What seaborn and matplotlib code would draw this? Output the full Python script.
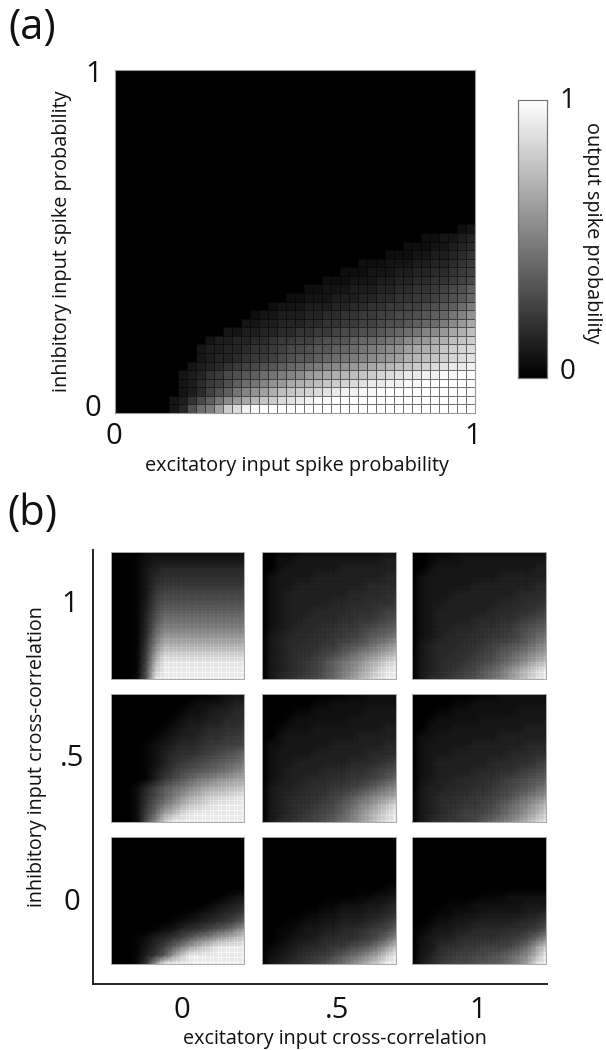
import numpy as np
import pandas as pd
import seaborn as sns
import matplotlib
matplotlib.use("Agg")
import matplotlib.pyplot as plt

# grey levels are written as one base-36 digit per cell (0 = black, z = white)
# rows run top to bottom, short rows are black on the left

# (a) 40 x 40 map
rows_a = [""] * 18 + [
    "23",
    "223345",
    "22233456",
    "2223344567",
    "2223334455678",
    "222333445566789",
    "2223334455667789a",
    "2233344455667789abd",
    "22333444556677889abce",
    "23334445566778899abcdfh",
    "2334445566778899aabcdegik",
    "334455566778899abbcdefhjln",
    "3344556677889aabbcdefgijlnoq",
    "344556678899abbcdeefghjklnoqrs",
    "3445567789aabccdefghijkmnoprstu",
    "345567889abccdefghijklmopqrstuv",
    "3456789abcdefghijklmnopqrstuvwwx",
    "34578abcdfghijlmnopqrstuvwwxxyyzz",
    "34689bdfgiklnopqrstuvwwxxyyzzzzzz",
    "3469bdgikmoqrstuvwxxyyzzzzzzzzzzz",
    "347adgjlnprsuvwxyyzzzzzzzzzzzzzzzz",
    "35bfhmsuxyzzzzzzzzzzzzzzzzzzzzzzzz",
]

# (b) 16 x 16 maps, one per input correlation pair (inhibitory, excitatory)
b_1_0 = [
    "0000222222222222", "0001233333333333", "0001345555555555", "0001356666666666",
    "0001367777777777", "0001379999999999", "000148aaaaaaaaaa", "000149cccccccccc",
    "00015aeeeeeeeeee", "00015cgggggggggg", "00016ejjjjjjjjjj", "00017gmmmmmmmmmm",
    "00018jqqqqqqqqqq", "00019mtttttttttt", "0001apwwwwwwwwww", "0002bszzzzzzzzzz",
]
b_1_5 = [
    "0011122222222222", "0022333333333344", "0023333334444444", "0233334444444455",
    "0233444444445555", "0234444444555566", "0234444455556667", "0234445555666788",
    "023445555667789a", "0234555667789abc", "034555667789bcdf", "0345566779abdfhj",
    "034566789bdfhjln", "0345678acegilnqs", "0345678acfhknqtw", "0356789bdgjmpsvy",
]
b_1_1 = [
    "0011122222222222", "0012223333333333", "0023333333333344", "0233333333444444",
    "0233333444444455", "0233344444445556", "0233444444555667", "0234444445556678",
    "023444455566789a", "0234455566779abc", "0234555667789bde", "03455566789abdfh",
    "0345566789bcegik", "034566789acegjmo", "03456789bdfiloru", "0356789acegjmpsv",
]
b_5_0 = [
    "0000000000001222", "0000000001222344", "0000000012234455", "0000000123344556",
    "0000001234455667", "0000012344566778", "0000123455677889", "0000124566789abd",
    "00001246789abcdf", "000013579abcdegi", "00001479bdfgijkl", "000258bdfhjlmnop",
    "000269cfilnpqrst", "00027bfimpqstuvw", "00028dknrtuvwxxy", "0002ahpuxyzzzzzz",
]
b_5_5 = [
    "0000000000112222", "0000001122222222", "0000112222223333", "0001222222333333",
    "0012223333333344", "0023333333344444", "0223333344444455", "0233334444445556",
    "0233444444555678", "023444455566789a", "02344555667789bd", "034455667789bdfh",
    "0345566789bdfhjl", "034566789bdgilor", "03456789acfilorv", "0356789acegjmpsw",
]
b_5_1 = [
    "0000000011222222", "0000011222222222", "0001122222223333", "0012222233333333",
    "0022233333333444", "0223333333444444", "0233333444444555", "0233344444455566",
    "0234444445556678", "023444455566789a", "0234455566789abc", "034455566789abdf",
    "03455667789acegi", "0345667789bdfhkn", "034567889acegjmq", "03567789bdfhknqt",
]
b_0_0 = [""] * 7 + [
    "0000000000000123", "0000000000012345", "0000000001234568", "000000012345679c",
    "000001235679bdgk", "000124579cfhkmoq", "0001358cgknqtvwx", "000147bjpuwxyyzz",
    "00027jvzzzzzzzzz",
]
b_0_5 = [""] * 6 + [
    "0000000000000012", "0000000000011223", "0000000112223345", "0000011223334456",
    "0001122334445679", "001123344556789c", "0012334556678adh", "01234556779acfjo",
    "023456779bdfilqv", "0345678acehknqvy",
]
b_0_1 = [""] * 7 + [
    "0000000011122222", "0000111222222333", "0001122233333445", "0012233444445568",
    "012334455556678b", "0234456666778adh", "023566778889bekp", "034678899abdfinu",
    "0357899abbcehlsx",
]

panels_b = [[b_1_0, b_1_5, b_1_1], [b_5_0, b_5_5, b_5_1], [b_0_0, b_0_5, b_0_1]]
col_edges = [(111, 244), (262, 396), (412, 546)]
row_edges = [(552, 679), (694, 822), (837, 964)]

W, H = 606, 1050


def decode(rows, n):
    grid = [[int(c, 36) / 35 for c in r.rjust(n, "0")] for r in rows]
    return pd.DataFrame(grid)


def add_ax(x0, x1, y0, y1):
    return fig.add_axes([x0 / W, 1 - y1 / H, (x1 - x0) / W, (y1 - y0) / H])


def label(x, y, s, size, **kw):
    fig.text(x / W, 1 - y / H, s, fontsize=size, ha="center", va="center", color="#111111", **kw)


sns.set_theme(style="white")
plt.rcParams["font.family"] = ["Open Sans", "DejaVu Sans"]

fig = plt.figure(figsize=(W / 100, H / 100), dpi=100)

# --- (a) ---
ax_a = add_ax(115, 475, 70, 413)
cax = add_ax(518, 547, 100, 378)
sns.heatmap(decode(rows_a, 40), vmin=0, vmax=1, cmap="gray", linewidths=0.5, linecolor=(0, 0, 0, 0.55),
            xticklabels=False, yticklabels=False, ax=ax_a, cbar_ax=cax,
            cbar_kws={"ticks": np.arange(0, 1.01, 0.1)})
for sp in ax_a.spines.values():
    sp.set_visible(True)
    sp.set_color("#999999")
    sp.set_linewidth(0.8)

cax.tick_params(left=True, right=True, labelright=False, direction="in", length=3, width=0.6, color="#666666")
for sp in cax.spines.values():
    sp.set_visible(True)
    sp.set_color("#777777")
    sp.set_linewidth(0.8)

label(32, 28, "(a)", 30)
label(94, 74, "1", 21)
label(93, 408, "0", 21)
label(114, 437, "0", 21)
label(473, 437, "1", 21)
label(297, 466, "excitatory input spike probability", 14.3)
label(62, 241, "inhibitory input spike probability", 14.3, rotation=90)
label(567, 101, "1", 20)
label(568, 372, "0", 20)
label(592, 233, "output spike probability", 14.3, rotation=270)

# --- (b) ---
ax_b = add_ax(93, 547, 550, 984)
ax_b.set(xticks=[], yticks=[])
ax_b.patch.set_alpha(0)
sns.despine(ax=ax_b)
ax_b.spines["left"].set_color("#222222")
ax_b.spines["bottom"].set_color("#222222")
ax_b.spines["left"].set_linewidth(1.4)
ax_b.spines["bottom"].set_linewidth(1.4)

for i, (y0, y1) in enumerate(row_edges):
    for j, (x0, x1) in enumerate(col_edges):
        ax = add_ax(x0, x1, y0, y1)
        data = decode(panels_b[i][j], 16)
        # the small maps read a bit brighter than the digits above, so clip white early
        sns.heatmap(data, vmin=0, vmax=0.85, cmap="gray", cbar=False, shading="gouraud",
                    xticklabels=False, yticklabels=False, ax=ax)
        ax.set_xlim(0, 15)
        ax.set_ylim(15, 0)
        grid = np.linspace(0, 15, 51)
        ax.vlines(grid, 0, 15, color="black", alpha=0.2, linewidth=0.3)
        ax.hlines(grid, 0, 15, color="black", alpha=0.2, linewidth=0.3)
        for sp in ax.spines.values():
            sp.set_visible(True)
            sp.set_color("#aaaaaa")
            sp.set_linewidth(0.7)

label(32, 514, "(b)", 30)
label(70, 605, "1", 21)
label(72, 758, ".5", 21)
label(72, 902, "0", 21)
label(182, 1010, "0", 21)
label(337, 1010, ".5", 21)
label(478, 1010, "1", 21)
label(335, 1039, "excitatory input cross-correlation", 14.2)
label(37, 757, "inhibitory input cross-correlation", 14.2, rotation=90)

fig.savefig("out.png", dpi=100)
